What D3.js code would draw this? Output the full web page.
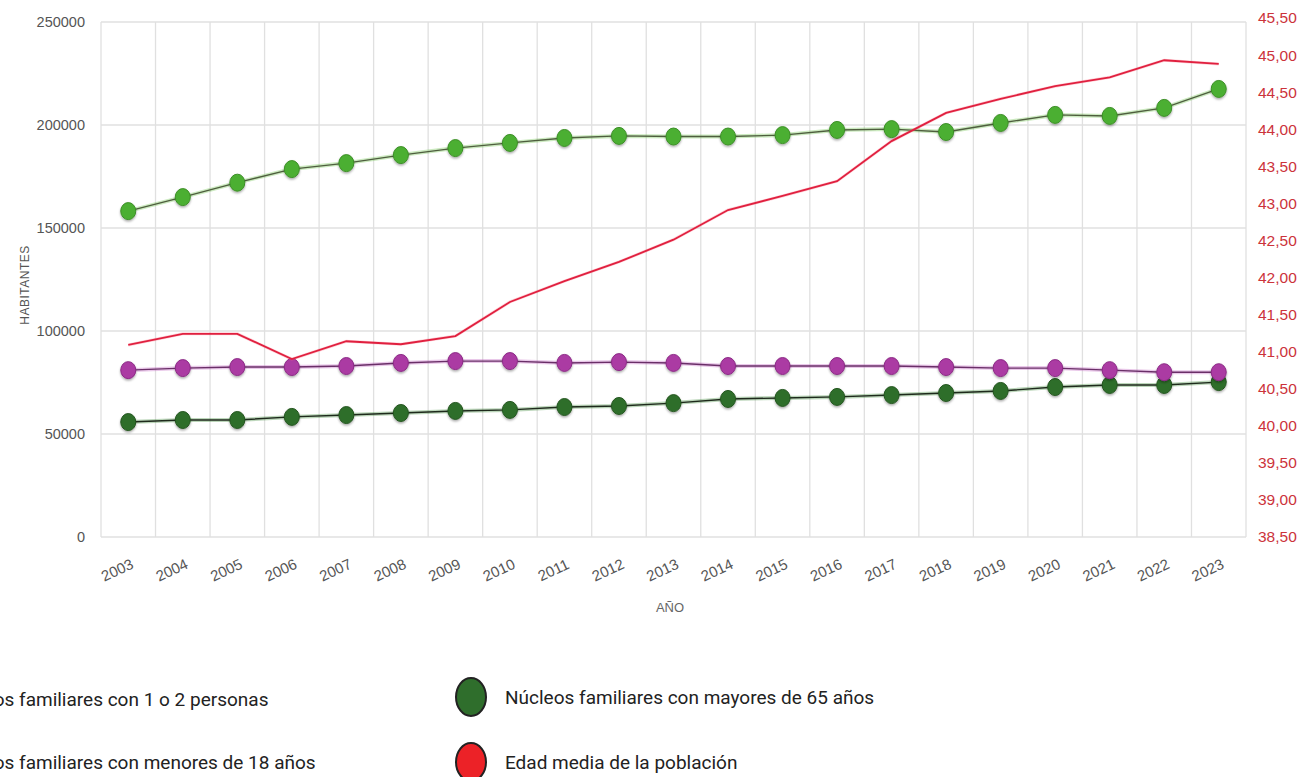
<!DOCTYPE html>
<html lang="es">
<head>
  <meta charset="UTF-8">
  <script src="https://d3js.org/d3.v7.min.js"></script>
  <title>Núcleos familiares</title>
  <style>
    body { margin: 0; background: #fff; }
    svg { display: block; font-family: "Liberation Sans", Arial, sans-serif; }
  </style>
</head>
<body>
  <svg id="chart" width="1297" height="777"></svg>

  <script>
    // Data
    var years = ["2003","2004","2005","2006","2007","2008","2009","2010","2011","2012","2013",
                 "2014","2015","2016","2017","2018","2019","2020","2021","2022","2023"];

    // Núcleos familiares con 1 o 2 personas
    var unoDos = [158200, 165000, 172000, 178600, 181500, 185400, 188800, 191300, 193700, 194700, 194400,
                  194400, 195100, 197600, 198000, 196600, 201000, 204900, 204400, 208300, 217500];

    // Núcleos familiares con menores de 18 años
    var menores = [81000, 82000, 82500, 82500, 83000, 84500, 85400, 85400, 84500, 84900, 84500,
                   83000, 83000, 83000, 83000, 82500, 82000, 82000, 81000, 80000, 80000];

    // Núcleos familiares con mayores de 65 años
    var mayores = [55800, 56800, 56800, 58300, 59200, 60200, 61200, 61700, 63100, 63600, 65000,
                   67000, 67500, 68000, 68900, 69900, 70900, 72800, 73800, 73800, 75200];

    // Edad media de la población (eje derecho)
    var edadMedia = [41.09, 41.24, 41.24, 40.90, 41.14, 41.10, 41.21, 41.67, 41.95, 42.21, 42.51,
                     42.91, 43.10, 43.30, 43.84, 44.22, 44.41, 44.58, 44.70, 44.93, 44.88];

    var leftTicks = [0, 50000, 100000, 150000, 200000, 250000];
    var rightTicks = [38.5, 39, 39.5, 40, 40.5, 41, 41.5, 42, 42.5, 43, 43.5, 44, 44.5, 45, 45.5];

    var legendItems = [
      { label: "Núcleos familiares con 1 o 2 personas", color: "#4caf33" },
      { label: "Núcleos familiares con menores de 18 años", color: "#ab3aa3" },
      { label: "Núcleos familiares con mayores de 65 años", color: "#2f6e2c" },
      { label: "Edad media de la población", color: "#ec2227" }
    ];

    var svg = d3.select("#chart");

    // plot box
    var pLeft = 101, pRight = 1246, pTop = 22, pBottom = 537;

    var x = d3.scaleBand().domain(years).range([pLeft, pRight]);
    var yL = d3.scaleLinear().domain([0, 250000]).range([pBottom, pTop]);
    var yR = d3.scaleLinear().domain([38.5, 45.5]).range([pBottom, 18]);
    var cx = function(d, i) { return x(years[i]) + x.bandwidth() / 2; };

    // drop shadow for the markers
    var defs = svg.append("defs");
    var f = defs.append("filter").attr("id", "shadow")
      .attr("x", "-50%").attr("y", "-50%").attr("width", "200%").attr("height", "200%");
    f.append("feDropShadow").attr("dx", 0).attr("dy", 1.5)
      .attr("stdDeviation", 1.3).attr("flood-color", "#000").attr("flood-opacity", 0.35);

    // grid
    var grid = svg.append("g");
    grid.selectAll(".hg").data(leftTicks).enter().append("line")
      .attr("x1", pLeft).attr("x2", pRight)
      .attr("y1", function(d) { return yL(d); }).attr("y2", function(d) { return yL(d); })
      .attr("stroke", "#e0e0e0").attr("stroke-width", 1.3);
    grid.selectAll(".vg").data(years.concat(["end"])).enter().append("line")
      .attr("x1", function(d) { return d === "end" ? pRight : x(d); })
      .attr("x2", function(d) { return d === "end" ? pRight : x(d); })
      .attr("y1", pTop).attr("y2", pBottom)
      .attr("stroke", "#e0e0e0").attr("stroke-width", 1.3);

    // left axis
    var axL = svg.append("g")
      .attr("transform", "translate(" + pLeft + ",0)")
      .call(d3.axisLeft(yL).tickValues(leftTicks).tickSize(0).tickPadding(16).tickFormat(d3.format("d")));
    axL.select(".domain").remove();
    axL.selectAll("text").attr("fill", "#555").style("font-size", "14.5px");

    // right axis
    var axR = svg.append("g")
      .attr("transform", "translate(" + pRight + ",0)")
      .call(d3.axisRight(yR).tickValues(rightTicks).tickSize(0).tickPadding(12)
        .tickFormat(function(d) { return d3.format(".2f")(d).replace(".", ","); }));
    axR.select(".domain").remove();
    axR.selectAll("text").attr("fill", "#cc333b").style("font-size", "15.5px");

    // bottom axis
    var axB = svg.append("g")
      .attr("transform", "translate(0," + pBottom + ")")
      .call(d3.axisBottom(x).tickSize(0));
    axB.select(".domain").remove();
    axB.selectAll("text")
      .attr("y", 0).attr("dy", "0.35em")
      .attr("text-anchor", "middle")
      .attr("transform", "translate(-11,33) rotate(-25)")
      .attr("fill", "#555").style("font-size", "15px");

    // axis titles
    svg.append("text")
      .attr("transform", "translate(29,285) rotate(-90)")
      .attr("text-anchor", "middle")
      .attr("fill", "#555").style("font-size", "12px").style("letter-spacing", "0.5px")
      .text("HABITANTES");
    svg.append("text")
      .attr("x", 670).attr("y", 612)
      .attr("text-anchor", "middle")
      .attr("fill", "#666").style("font-size", "13px")
      .text("AÑO");

    // series
    var lineL = d3.line().x(cx).y(function(d) { return yL(d); });
    var lineR = d3.line().x(cx).y(function(d) { return yR(d); });

    function drawSeries(values, lineColor, glow, fill, stroke) {
      var g = svg.append("g");
      g.append("path").datum(values).attr("d", lineL)
        .attr("fill", "none").attr("stroke", glow).attr("stroke-width", 4).attr("stroke-opacity", 0.35);
      g.append("path").datum(values).attr("d", lineL)
        .attr("fill", "none").attr("stroke", lineColor).attr("stroke-width", 1.4);
      g.selectAll("ellipse").data(values).enter().append("ellipse")
        .attr("cx", cx).attr("cy", function(d) { return yL(d); })
        .attr("rx", 7.5).attr("ry", 8.5)
        .attr("fill", fill).attr("stroke", stroke).attr("stroke-width", 1)
        .attr("filter", "url(#shadow)");
    }

    drawSeries(mayores, "#1e2a1c", "#3f8a3a", "#2f6e2c", "#24561f");
    drawSeries(menores, "#6a2f68", "#c060c0", "#ab3aa3", "#8c2b86");
    drawSeries(unoDos, "#4e5e3e", "#6cc44a", "#4caf33", "#3c8f26");

    svg.append("path").datum(edadMedia).attr("d", lineR)
      .attr("fill", "none").attr("stroke", "#ff6a80").attr("stroke-width", 3).attr("stroke-opacity", 0.3);
    svg.append("path").datum(edadMedia).attr("d", lineR)
      .attr("fill", "none").attr("stroke", "#e0203f").attr("stroke-width", 1.8);

    // legend: two columns, the first one runs off the left edge
    var legendPos = [[-89, 699], [-89, 762], [471, 697], [471, 762]];
    var lg = svg.append("g").selectAll("g").data(legendItems).enter().append("g")
      .attr("transform", function(d, i) { return "translate(" + legendPos[i][0] + "," + legendPos[i][1] + ")"; });
    lg.append("ellipse")
      .attr("rx", 15).attr("ry", 19)
      .attr("fill", function(d) { return d.color; })
      .attr("stroke", "#222").attr("stroke-width", 2);
    lg.append("text")
      .attr("x", 34).attr("y", 0).attr("dy", "0.35em")
      .attr("fill", "#222")
      .style("font-family", "Roboto, sans-serif").style("font-size", "19px")
      .text(function(d) { return d.label; });
  </script>
</body>
</html>
